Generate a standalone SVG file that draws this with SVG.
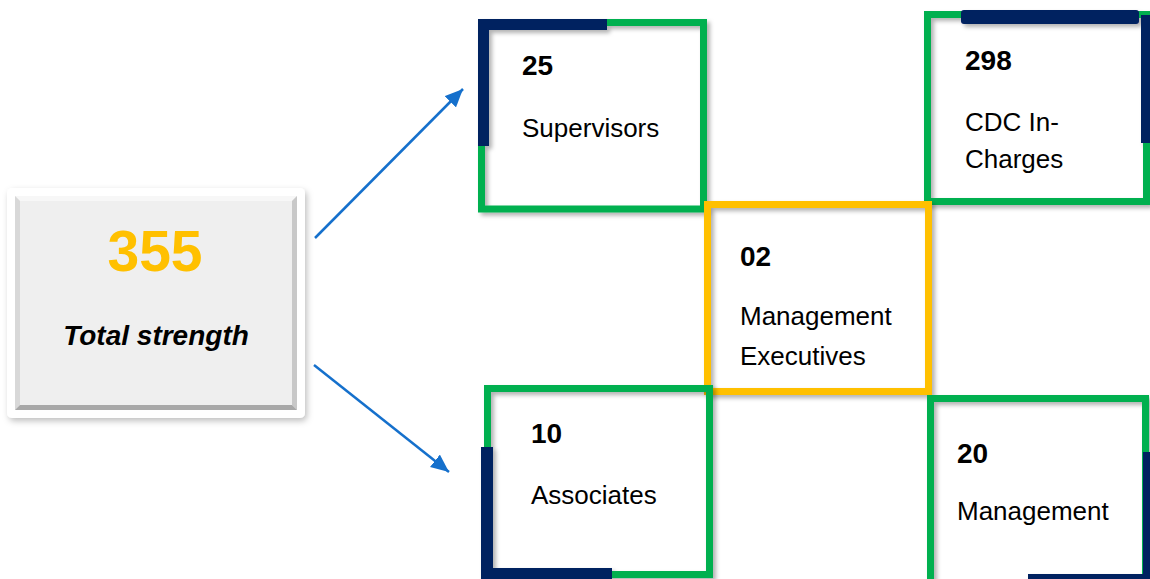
<svg xmlns="http://www.w3.org/2000/svg" width="1150" height="579" viewBox="0 0 1150 579">
  <style>
    .num { font-family: "Liberation Sans", Arial, sans-serif; font-weight: bold; font-size: 28px; fill: #000; }
    .lbl { font-family: "Liberation Sans", Arial, sans-serif; font-size: 26px; fill: #000; }
    .green { fill: none; stroke: #00B050; stroke-width: 7; }
    .yellow { fill: none; stroke: #FFC000; stroke-width: 7; }
    .navy { fill: #002060; }
    .conn { stroke: #1570CC; stroke-width: 2.5; fill: none; marker-end: url(#arrow); }
  </style>
  <defs>
    <filter id="shadow" x="-10%" y="-10%" width="130%" height="130%">
      <feDropShadow dx="3" dy="3" stdDeviation="2" flood-color="#000" flood-opacity="0.3"/>
    </filter>
    <filter id="shadow2" x="-10%" y="-10%" width="130%" height="130%">
      <feDropShadow dx="2" dy="3" stdDeviation="3" flood-color="#000" flood-opacity="0.25"/>
    </filter>
    <marker id="arrow" markerUnits="userSpaceOnUse" markerWidth="20" markerHeight="16" refX="18" refY="8" orient="auto">
      <path d="M0,0 L18,8 L0,16 Z" fill="#1570CC"/>
    </marker>
  </defs>

  <rect width="1150" height="579" fill="#fff"/>

  <g id="total">
    <rect x="7" y="188" width="298" height="230" rx="5" fill="#fff" filter="url(#shadow2)"/>
    <rect x="15" y="196" width="282" height="214" fill="#EFEFEF"/>
    <polygon points="15,196 297,196 292,201 20,201" fill="#F7F7F7"/>
    <polygon points="15,196 20,201 20,405 15,410" fill="#D8D8D8"/>
    <polygon points="297,196 297,410 292,405 292,201" fill="#C8C8C8"/>
    <polygon points="15,410 297,410 292,405 20,405" fill="#A8A8A8"/>
    <text x="155" y="271" text-anchor="middle" font-family="Liberation Sans, Arial, sans-serif" font-weight="bold" font-size="57" fill="#FFC000">355</text>
    <text x="156" y="345" text-anchor="middle" font-family="Liberation Sans, Arial, sans-serif" font-weight="bold" font-style="italic" font-size="28" fill="#000">Total strength</text>
  </g>

  <g id="connectors">
    <line class="conn" x1="315" y1="238" x2="463" y2="89"/>
    <line class="conn" x1="314" y1="365" x2="449" y2="472"/>
  </g>

  <g id="supervisors">
    <g filter="url(#shadow)">
      <rect class="green" x="481.5" y="22.5" width="222" height="186.5"/>
      <rect class="navy" x="478" y="19" width="129" height="11"/>
      <rect class="navy" x="478" y="19" width="11" height="127"/>
    </g>
    <text class="num" x="522" y="75">25</text>
    <text class="lbl" x="522" y="137">Supervisors</text>
  </g>

  <g id="cdc">
    <g filter="url(#shadow)">
      <rect class="green" x="927.5" y="14.5" width="219" height="187"/>
      <rect class="navy" x="961" y="10" width="178" height="14" rx="3"/>
      <rect class="navy" x="1141" y="15" width="9" height="128"/>
    </g>
    <text class="num" x="965" y="70">298</text>
    <text class="lbl" x="965" y="131">CDC In-</text>
    <text class="lbl" x="965" y="168">Charges</text>
  </g>

  <g id="mgmt-exec">
    <rect class="yellow" x="707.5" y="204.5" width="221" height="187" filter="url(#shadow)"/>
    <text class="num" x="740" y="266">02</text>
    <text class="lbl" x="740" y="325">Management</text>
    <text class="lbl" x="740" y="365">Executives</text>
  </g>

  <g id="associates">
    <g filter="url(#shadow)">
      <rect class="green" x="487.5" y="388.5" width="222" height="186"/>
      <rect class="navy" x="481" y="447" width="12" height="132"/>
      <rect class="navy" x="481" y="568" width="131" height="11"/>
    </g>
    <text class="num" x="531" y="443">10</text>
    <text class="lbl" x="531" y="504">Associates</text>
  </g>

  <g id="management">
    <g filter="url(#shadow)">
      <rect class="green" x="930.5" y="398.5" width="215" height="190"/>
      <rect class="navy" x="1143" y="452" width="7" height="127"/>
      <rect class="navy" x="1028" y="574" width="122" height="5"/>
    </g>
    <text class="num" x="957" y="463">20</text>
    <text class="lbl" x="957" y="520">Management</text>
  </g>
</svg>
